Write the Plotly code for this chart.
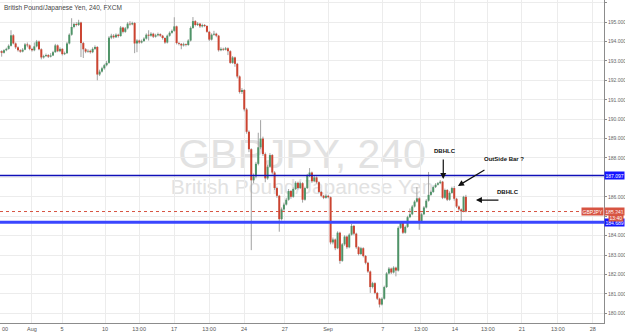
import plotly.graph_objects as go

# ---- data (4h candles, bar index with weekends removed) ----
bars = list(range(-14, 187))

closes = [
    193.50, 193.42, 193.55, 193.62, 193.78, 194.32, 193.90, 193.70, 193.55, 193.48,
    193.58, 193.85, 193.80, 193.62, 193.55, 193.75, 194.00, 193.60, 193.18, 193.25,
    193.30, 193.22, 193.28, 193.45, 193.80, 193.50, 193.62, 193.35, 193.40, 193.90,
    194.35, 194.75, 194.90, 194.85, 194.98, 193.92, 193.60, 193.48, 193.52, 193.45,
    193.62, 193.72, 192.30, 192.45, 192.62, 192.78, 192.90, 194.20, 194.30, 194.22,
    194.35, 194.28, 194.72, 194.50, 194.68, 194.92, 194.88, 194.95, 193.90, 194.05,
    193.95, 194.02, 194.15, 194.35, 194.30, 194.40, 194.25, 194.32, 194.38, 194.30,
    194.18, 193.95, 194.30, 194.45, 194.55, 194.78, 193.92, 193.88, 193.80, 193.86,
    193.82, 194.05, 194.70, 195.05, 194.85, 194.92, 194.78, 194.85, 194.80, 194.50,
    194.10, 194.35, 194.40, 194.30, 193.55, 193.62, 193.58, 193.65, 193.50, 192.90,
    193.18, 192.85, 192.20, 191.40, 191.50, 190.50, 189.35, 188.45, 186.85, 187.05,
    187.70, 188.55, 189.00, 188.20, 186.95, 187.55, 188.15, 187.25, 186.45, 186.05,
    184.85, 185.35, 185.60, 185.85, 186.30, 186.00, 186.40, 186.72, 186.45, 186.70,
    185.85, 186.45, 187.10, 187.25, 186.80, 187.00, 186.75, 186.25, 186.05, 185.95,
    186.05, 185.98, 183.65, 183.80, 183.35, 184.15, 182.70, 183.55, 183.95, 183.40,
    184.05, 184.50, 184.10, 183.40, 183.05, 183.35, 182.95, 182.60, 182.15, 181.35,
    181.55, 181.05, 180.75, 180.45, 180.75, 181.35, 182.05, 182.30, 182.10, 182.35,
    182.20, 184.40, 184.65, 184.15, 184.45, 184.95, 185.10, 185.50, 185.75, 185.92,
    184.70, 185.10, 185.45, 185.80, 186.10, 186.25, 186.50, 186.62, 186.70, 186.78,
    185.95, 186.35, 185.85, 186.20, 186.45, 185.90, 185.50, 185.35, 185.25, 186.00,
    185.241,
]

highs = [
    193.58, 193.55, 193.60, 193.68, 193.85, 194.58, 194.38, 193.95, 193.75, 193.60,
    193.66, 193.92, 193.95, 193.85, 193.68, 193.95, 194.08, 194.05, 193.65, 193.32,
    193.38, 193.35, 193.40, 193.52, 193.88, 193.85, 193.70, 193.66, 193.48, 193.98,
    194.42, 195.20, 194.98, 195.00, 195.12, 195.02, 193.98, 193.66, 193.60, 193.58,
    193.70, 193.80, 193.76, 192.55, 192.70, 192.85, 193.00, 194.28, 194.40, 194.38,
    194.42, 194.40, 194.80, 194.76, 194.75, 195.00, 195.05, 195.02, 195.00, 194.12,
    194.10, 194.10, 194.22, 194.42, 194.58, 194.48, 194.45, 194.40, 194.46, 194.42,
    194.34, 194.22, 194.36, 194.52, 194.62, 195.25, 194.82, 193.98, 193.92, 193.94,
    193.90, 194.12, 194.78, 195.26, 195.10, 195.00, 194.96, 194.92, 194.90, 194.84,
    194.55, 194.42, 194.55, 194.45, 194.34, 193.70, 193.68, 193.72, 193.70, 193.55,
    193.25, 193.22, 192.90, 192.25, 191.60, 191.55, 190.58, 189.42, 188.50, 187.20,
    187.80, 189.30, 189.95, 189.10, 188.28, 187.65, 188.25, 188.20, 187.32, 186.52,
    186.10, 185.45, 185.70, 185.95, 186.40, 186.35, 186.48, 186.80, 186.78, 186.78,
    186.75, 186.52, 187.18, 187.48, 187.30, 187.08, 187.05, 186.80, 186.30, 186.10,
    186.12, 186.10, 186.02, 183.90, 183.85, 184.22, 184.20, 183.62, 184.02, 184.00,
    184.12, 184.60, 184.55, 184.15, 183.45, 183.42, 183.40, 183.00, 182.65, 182.20,
    181.62, 181.60, 181.10, 180.80, 180.82, 181.42, 182.12, 182.38, 182.35, 182.42,
    182.40, 184.48, 184.72, 184.70, 184.52, 185.02, 185.40, 185.58, 185.82, 186.50,
    185.98, 185.18, 185.52, 185.88, 187.28, 186.32, 186.58, 186.70, 186.76, 186.86,
    186.82, 186.42, 186.40, 186.28, 186.52, 186.55, 185.95, 185.55, 185.40, 186.05,
    186.10,
]

lows = [
    193.40, 193.22, 193.38, 193.50, 193.58, 193.74, 193.85, 193.62, 193.48, 193.42,
    193.44, 193.55, 193.70, 193.55, 193.48, 193.50, 193.70, 193.55, 193.08, 193.12,
    193.20, 193.15, 193.18, 193.25, 193.42, 193.45, 193.45, 193.28, 193.30, 193.36,
    193.85, 194.30, 194.68, 194.78, 194.80, 193.20, 193.15, 193.40, 193.42, 193.38,
    193.40, 193.56, 192.00, 192.22, 192.40, 192.55, 192.72, 192.85, 194.12, 194.15,
    194.18, 194.20, 194.25, 194.42, 194.45, 194.62, 194.82, 194.84, 193.40, 193.45,
    193.88, 193.90, 193.98, 194.10, 194.05, 194.25, 194.18, 194.20, 194.26, 194.24,
    194.10, 193.88, 193.90, 194.25, 194.40, 194.50, 193.85, 193.80, 193.60, 193.74,
    193.75, 193.78, 194.00, 194.65, 194.78, 194.80, 194.70, 194.72, 194.74, 194.45,
    194.02, 194.05, 194.30, 194.22, 193.48, 193.50, 193.52, 193.54, 193.30, 192.85,
    192.85, 192.70, 192.10, 191.32, 191.30, 190.40, 189.25, 188.30, 183.25, 186.70,
    186.95, 187.62, 188.45, 188.10, 186.75, 186.88, 187.50, 187.15, 186.35, 185.95,
    184.20, 184.78, 185.28, 185.55, 185.80, 185.90, 185.95, 186.35, 186.38, 186.40,
    185.70, 185.80, 186.40, 187.02, 186.72, 186.75, 186.68, 186.18, 185.98, 185.88,
    185.90, 185.92, 183.55, 183.55, 183.25, 183.30, 182.55, 182.65, 183.48, 183.32,
    183.35, 184.00, 184.02, 183.32, 182.98, 183.00, 182.88, 182.52, 182.08, 181.05,
    181.28, 180.98, 180.68, 180.30, 180.40, 180.70, 181.30, 182.00, 182.02, 182.05,
    181.90, 182.15, 184.35, 184.08, 184.10, 184.40, 184.90, 185.05, 185.45, 185.70,
    184.30, 184.65, 185.05, 185.40, 185.75, 186.05, 186.20, 186.45, 186.58, 186.65,
    185.88, 185.90, 185.78, 185.80, 186.15, 185.80, 185.42, 185.28, 184.70, 185.20,
    185.20,
]

first_open = 193.45
opens = [first_open] + closes[:-1]

x_tick_vals = [0, 12.9, 31.3, 45.9, 60.9, 75.9, 90.9, 108.4, 126.9, 150.4,
               166.7, 181.3, 195.4, 210, 225.4, 240.4]
x_tick_text = ["Aug", "5", "10", "13:00", "17", "13:00", "24", "27", "Sep", "7",
               "13:00", "14", "13:00", "21", "13:00", "28"]
edge_label = "00"
y_tick_vals = list(range(180, 197))
hidden_y = [185, 187]
y_tick_text = ["" if v in hidden_y else f"{v}.000" for v in y_tick_vals]

levels = [187.097, 184.689]
level_colors = ["#1010b8", "#3a46ff"]
level_widths = [1.3, 3]
last_price = 185.241

notes = [("DBHLC", 177.0, 188.36), ("OutSide Bar ?", 202.3, 187.95), ("DBHLC", 204.0, 186.25)]
arrows = [(176.3, 186.92, 176.3, 188.0), (182.6, 186.56, 194.6, 187.43), (190.3, 185.83, 200.6, 185.83)]

UP = "#4f9468"
DOWN = "#cc4431"
WICK = "#a2a2a2"
FONT = "Liberation Sans"

# ---- traces ----
wx, wy = [], []
ux, uy, dx, dy = [], [], [], []
for b, o, h, l, c in zip(bars, opens, highs, lows, closes):
    wx += [b, b, None]
    wy += [l, h, None]
    if c >= o:
        ux += [b, b, None]
        uy += [o, c, None]
    else:
        dx += [b, b, None]
        dy += [o, c, None]

fig = go.Figure()
fig.add_trace(go.Scatter(x=wx, y=wy, mode="lines", line=dict(color=WICK, width=1),
                         hoverinfo="skip"))
fig.add_trace(go.Scatter(x=ux, y=uy, mode="lines", line=dict(color=UP, width=2),
                         hoverinfo="skip"))
fig.add_trace(go.Scatter(x=dx, y=dy, mode="lines", line=dict(color=DOWN, width=2),
                         hoverinfo="skip"))

shapes = []
for lv, col, w in zip(levels, level_colors, level_widths):
    shapes.append(dict(type="line", xref="paper", x0=0, x1=1, yref="y", y0=lv, y1=lv,
                       line=dict(color=col, width=w)))
shapes.append(dict(type="line", xref="paper", x0=0, x1=1, yref="y", y0=last_price,
                   y1=last_price, line=dict(color="#d75442", width=1, dash="dot")))
# watermark (below traces)
shapes.append(dict(type="rect", xref="paper", yref="paper", x0=0.2, x1=0.8, y0=0.49, y1=0.58,
                   layer="below", line=dict(width=0), fillcolor="rgba(0,0,0,0)",
                   label=dict(text="GBPJPY, 240", font=dict(family=FONT, size=41, color="#e2e2e2"))))
shapes.append(dict(type="rect", xref="paper", yref="paper", x0=0.2, x1=0.8, y0=0.40, y1=0.46,
                   layer="below", line=dict(width=0), fillcolor="rgba(0,0,0,0)",
                   label=dict(text="British Pound/Japanese Yen", font=dict(family=FONT, size=21, color="#e2e2e2"))))

ann = []
ann.append(dict(text="British Pound/Japanese Yen, 240, FXCM", xref="paper", yref="paper",
                x=0, y=1, xanchor="left", yanchor="top", xshift=2, yshift=-2, showarrow=False,
                font=dict(family=FONT, size=6.5, color="#444")))
ann.append(dict(text=edge_label, xref="paper", yref="paper", x=0, y=0, yanchor="top",
                xanchor="left", xshift=0, yshift=-1, showarrow=False,
                font=dict(family=FONT, size=5.5, color="#555")))
for t, x, y in notes:
    ann.append(dict(text=f"<b>{t}</b>", x=x, y=y, xref="x", yref="y", showarrow=False,
                    font=dict(family=FONT, size=6, color="#111")))
for hx, hy, tx, ty in arrows:
    ann.append(dict(text="", x=hx, y=hy, ax=tx, ay=ty, xref="x", yref="y", axref="x", ayref="y",
                    showarrow=True, arrowhead=2, arrowsize=1, arrowwidth=1.2, arrowcolor="#111",
                    standoff=0))
box_font = dict(family=FONT, size=5, color="white")
for lv in levels:
    ann.append(dict(text=f"{lv:.3f}", xref="paper", yref="y", x=1, y=lv, xanchor="left",
                    xshift=0, showarrow=False, bgcolor="#1414ff", borderpad=0.5, font=box_font))
ann.append(dict(text=f"{last_price:.3f}", xref="paper", yref="y", x=1, y=last_price,
                xanchor="left", showarrow=False, bgcolor="#d75442", borderpad=0.5, font=box_font))
ann.append(dict(text="GBPJPY", xref="paper", yref="y", x=1, y=last_price, xanchor="right",
                showarrow=False, bgcolor="#d75442", borderpad=0.5, font=box_font))
ann.append(dict(text="13:40", xref="paper", yref="y", x=1, y=184.93, xanchor="left", xshift=4,
                showarrow=False, bgcolor="#d75442", borderpad=0.5, font=box_font))

fig.update_layout(
    width=625, height=333, margin=dict(l=0, r=21, t=0, b=10),
    plot_bgcolor="white", paper_bgcolor="white", showlegend=False,
    shapes=shapes, annotations=ann,
    xaxis=dict(range=[-13.71, 245.2], tickvals=x_tick_vals, ticktext=x_tick_text,
               showgrid=True, gridcolor="#ececec", gridwidth=1, zeroline=False,
               showline=True, linecolor="#8c8c8c", linewidth=1, mirror=True,
               ticks="", automargin=False,
               tickfont=dict(family=FONT, size=5.5, color="#555")),
    yaxis=dict(range=[179.498, 196.139], side="right", tickvals=y_tick_vals, ticktext=y_tick_text,
               showgrid=True, gridcolor="#ececec", gridwidth=1, zeroline=False,
               showline=True, linecolor="#8c8c8c", linewidth=1, mirror=True,
               ticks="outside", ticklen=2, tickcolor="#8c8c8c", automargin=False,
               tickfont=dict(family=FONT, size=5, color="#666")),
)

fig.write_html("out.html")
